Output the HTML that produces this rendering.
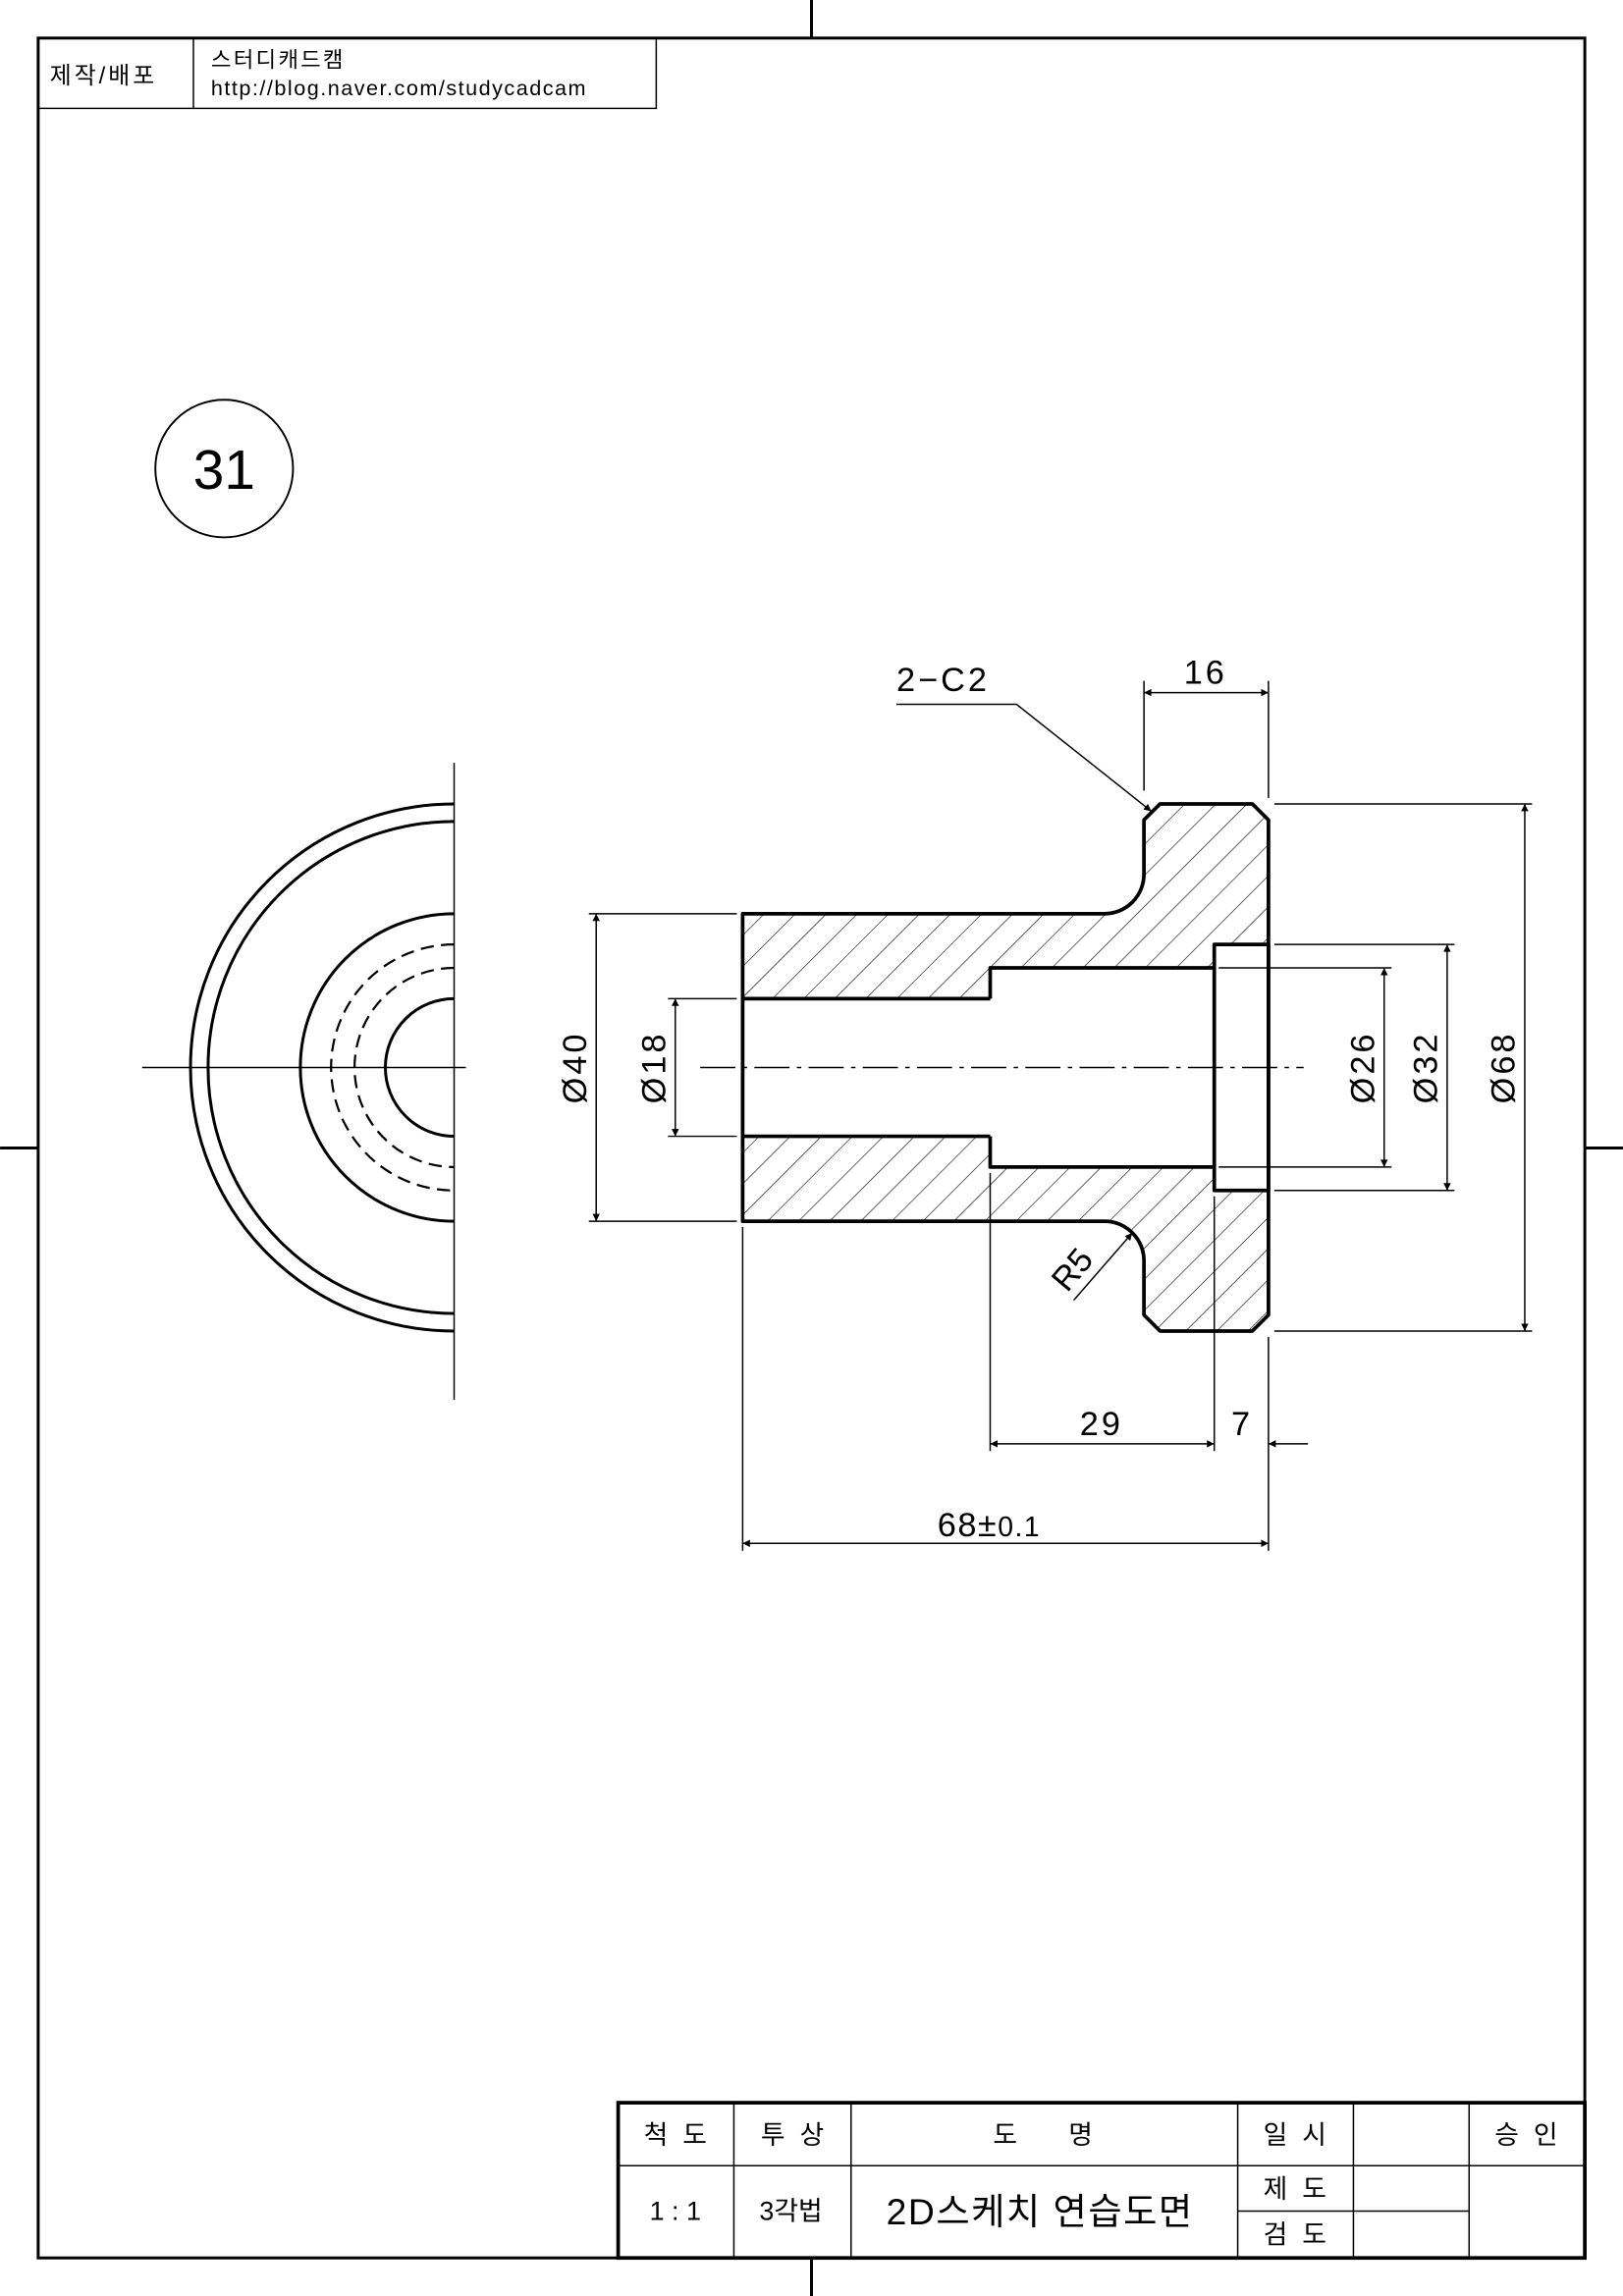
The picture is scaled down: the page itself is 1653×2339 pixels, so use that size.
<!DOCTYPE html>
<html><head><meta charset="utf-8"><style>
html,body{margin:0;padding:0;background:#fff}
svg{display:block}
text{font-family:"Liberation Sans","Noto Sans CJK KR",sans-serif;fill:#000}
</style></head><body>
<svg width="1653" height="2339" viewBox="0 0 1108 1568" xmlns="http://www.w3.org/2000/svg">
<defs>
<marker id="a" viewBox="0 0 10 10" refX="10" refY="5" markerWidth="13" markerHeight="5" markerUnits="userSpaceOnUse" orient="auto-start-reverse"><path d="M0,0 L10,5 L0,10 z" fill="#000"/></marker>
<pattern id="h" patternUnits="userSpaceOnUse" width="15" height="15" patternTransform="rotate(45)"><line x1="0" y1="0" x2="0" y2="15" stroke="#000" stroke-width="0.8"/></pattern>
</defs>
<rect x="26" y="26" width="1056" height="1516" fill="none" stroke="#000" stroke-width="2"/>
<g stroke="#000" stroke-width="2">
<line x1="554" y1="0" x2="554" y2="26"/><line x1="554" y1="1542" x2="554" y2="1568"/>
<line x1="0" y1="784" x2="26" y2="784"/><line x1="1082" y1="784" x2="1108" y2="784"/>
</g>
<rect x="26" y="26" width="422" height="48" fill="none" stroke="#000" stroke-width="1"/>
<line x1="132" y1="26" x2="132" y2="74" stroke="#000" stroke-width="1"/>
<text x="34" y="57" font-size="16" letter-spacing="2">제작/배포</text>
<text x="144" y="46" font-size="15" letter-spacing="1.5">스터디캐드캠</text>
<text x="144" y="65" font-size="14.5" letter-spacing="1">http://blog.naver.com/studycadcam</text>
<circle cx="153" cy="320" r="47" fill="none" stroke="#000" stroke-width="1.3"/>
<text x="153" y="334" font-size="38" text-anchor="middle">31</text>

<g fill="none" stroke="#000" stroke-width="2">
<path d="M310,549 A180,180 0 0 0 310,909"/>
<path d="M310,561 A168,168 0 0 0 310,897"/>
<path d="M310,624 A105,105 0 0 0 310,834"/>
<path d="M310,682 A47,47 0 0 0 310,776"/>
</g>
<g fill="none" stroke="#000" stroke-width="1.5" stroke-dasharray="9,5">
<path d="M310,645 A84,84 0 0 0 310,813"/>
<path d="M310,661 A68,68 0 0 0 310,797"/>
</g>
<line x1="310" y1="521" x2="310" y2="956" stroke="#000" stroke-width="1"/>
<line x1="97" y1="729" x2="318" y2="729" stroke="#000" stroke-width="1"/>

<path d="M507,624 L754,624 A27,27 0 0 0 781,597 L781,560 L792,549 L855,549 L866,560 L866,645 L829,645 L829,661 L676,661 L676,682 L507,682 Z" fill="url(#h)"/>
<path d="M507,834 L754,834 A27,27 0 0 1 781,861 L781,898 L792,909 L855,909 L866,898 L866,813 L829,813 L829,797 L676,797 L676,776 L507,776 Z" fill="url(#h)"/>
<g fill="none" stroke="#000" stroke-width="2.5" stroke-linejoin="round">
<path d="M507,624 L754,624 A27,27 0 0 0 781,597 L781,560 L792,549 L855,549 L866,560 L866,898 L855,909 L792,909 L781,898 L781,861 A27,27 0 0 0 754,834 L507,834 Z"/>
<line x1="507" y1="682" x2="676" y2="682"/><line x1="507" y1="776" x2="676" y2="776"/>
<path d="M676,682 L676,661 L829,661 M676,776 L676,797 L829,797"/>
<rect x="829" y="645" width="37" height="168"/>
</g>
<line x1="478" y1="729" x2="890" y2="729" stroke="#000" stroke-width="1" stroke-dasharray="24,5,3,5"/>

<g stroke="#000" stroke-width="1" fill="none">
<line x1="781" y1="465" x2="781" y2="540"/><line x1="866" y1="465" x2="866" y2="545"/>
<line x1="781" y1="473" x2="866" y2="473" marker-start="url(#a)" marker-end="url(#a)"/>
<polyline points="612,481 694,481 786,554" marker-end="url(#a)"/>
<line x1="870" y1="549" x2="1046" y2="549"/><line x1="870" y1="909" x2="1046" y2="909"/>
<line x1="1041" y1="549" x2="1041" y2="909" marker-start="url(#a)" marker-end="url(#a)"/>
<line x1="870" y1="645" x2="993" y2="645"/><line x1="870" y1="813" x2="993" y2="813"/>
<line x1="988" y1="645" x2="988" y2="813" marker-start="url(#a)" marker-end="url(#a)"/>
<line x1="832" y1="661" x2="950" y2="661"/><line x1="832" y1="797" x2="950" y2="797"/>
<line x1="945" y1="661" x2="945" y2="797" marker-start="url(#a)" marker-end="url(#a)"/>
<line x1="402" y1="624" x2="503" y2="624"/><line x1="402" y1="834" x2="503" y2="834"/>
<line x1="407" y1="624" x2="407" y2="834" marker-start="url(#a)" marker-end="url(#a)"/>
<line x1="456" y1="682" x2="503" y2="682"/><line x1="456" y1="776" x2="503" y2="776"/>
<line x1="461" y1="682" x2="461" y2="776" marker-start="url(#a)" marker-end="url(#a)"/>
<line x1="676" y1="801" x2="676" y2="991"/><line x1="829" y1="817" x2="829" y2="991"/><line x1="866" y1="913" x2="866" y2="1059"/>
<line x1="676" y1="986" x2="829" y2="986" marker-start="url(#a)" marker-end="url(#a)"/>
<line x1="866" y1="986" x2="893" y2="986" marker-start="url(#a)"/>
<line x1="507" y1="838" x2="507" y2="1059"/>
<line x1="507" y1="1054" x2="866" y2="1054" marker-start="url(#a)" marker-end="url(#a)"/>
<line x1="733" y1="888" x2="773" y2="842" marker-end="url(#a)"/>
</g>
<g font-size="23">
<text x="823" y="467" text-anchor="middle" letter-spacing="2">16</text>
<text x="612" y="472" letter-spacing="2">2−C2</text>
<text x="752" y="980" text-anchor="middle" letter-spacing="2">29</text>
<text x="847" y="980" text-anchor="middle">7</text>
<text x="640" y="1049" letter-spacing="1">68±<tspan font-size="19">0.1</tspan></text>
<text transform="translate(1034,729) rotate(-90)" text-anchor="middle" letter-spacing="2">Ø68</text>
<text transform="translate(981,729) rotate(-90)" text-anchor="middle" letter-spacing="2">Ø32</text>
<text transform="translate(938,729) rotate(-90)" text-anchor="middle" letter-spacing="2">Ø26</text>
<text transform="translate(400,729) rotate(-90)" text-anchor="middle" letter-spacing="2">Ø40</text>
<text transform="translate(454,729) rotate(-90)" text-anchor="middle" letter-spacing="2">Ø18</text>
<text transform="translate(738,872) rotate(-50)" text-anchor="middle">R5</text>
</g>

<rect x="422" y="1436" width="660" height="106" fill="none" stroke="#000" stroke-width="2.5"/>
<g stroke="#000" stroke-width="1">
<line x1="422" y1="1479" x2="1082" y2="1479"/>
<line x1="501" y1="1436" x2="501" y2="1542"/><line x1="581" y1="1436" x2="581" y2="1542"/>
<line x1="845" y1="1436" x2="845" y2="1542"/><line x1="924" y1="1436" x2="924" y2="1542"/>
<line x1="1003" y1="1436" x2="1003" y2="1542"/>
<line x1="845" y1="1510" x2="1003" y2="1510"/>
</g>
<g font-size="18" text-anchor="middle">
<text x="461" y="1464">척 &#160;도</text>
<text x="541" y="1464">투 &#160;상</text>
<text x="712" y="1464">도 &#160; &#160; &#160; 명</text>
<text x="884" y="1464">일 &#160;시</text>
<text x="1042" y="1464">승 &#160;인</text>
<text x="461" y="1516">1 : 1</text>
<text x="540" y="1516">3각법</text>
<text x="884" y="1501">제 &#160;도</text>
<text x="884" y="1532">검 &#160;도</text>
<text x="710" y="1519" font-size="25" letter-spacing="1">2D스케치 연습도면</text>
</g>
</svg>
</body></html>
